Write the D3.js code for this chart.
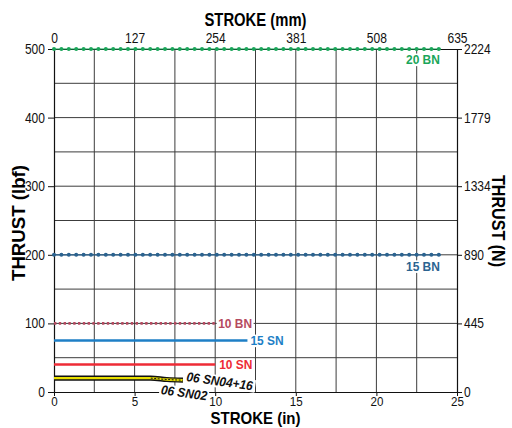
<!DOCTYPE html>
<html>
<head>
<meta charset="utf-8">
<script src="https://cdn.jsdelivr.net/npm/d3@7"></script>
<style>
  html, body { margin: 0; padding: 0; background: #fff; }
  svg text { font-family: "Liberation Sans", Arial, sans-serif; }
</style>
</head>
<body>
<svg id="chart" width="512" height="428"></svg>
<script>
// Stroke axis (inches) and thrust axis (lbf)
const strokeTicksIn = [0, 5, 10, 15, 20, 25];
const strokeTicksMm = ["0", "127", "254", "381", "508", "635"];
const thrustTicksLbf = [0, 100, 200, 300, 400, 500];
const thrustTicksN = ["0", "445", "890", "1334", "1779", "2224"];

// Constant-thrust models: [stroke start, stroke end, thrust]
const seriesNames = ["20 BN", "15 BN", "10 BN", "15 SN", "10 SN"];
const seriesStroke = [[0, 24], [0, 24], [0, 10], [0, 12], [0, 10]];
const seriesThrust = [500, 200, 100, 75, 40];

// Small models with a drop-off near the end of stroke
const sn0416Stroke = [0, 6, 7, 8];
const sn0416Thrust = [23, 23, 21, 20];
const sn02Stroke = [0, 6, 7, 8];
const sn02Thrust = [17.5, 17.5, 15.5, 14.5];

const svg = d3.select("#chart");
const m = { left: 54, right: 457, top: 49, bottom: 392 };

const x = d3.scaleLinear().domain([0, 25]).range([m.left, m.right]);
const y = d3.scaleLinear().domain([0, 500]).range([m.bottom, m.top]);

const gridColor = "#3c3c3c";
const narrow = 0.86;

// Grid
const grid = svg.append("g");
grid.selectAll("line.v").data(d3.range(2.5, 25, 2.5)).join("line")
  .attr("x1", d => x(d)).attr("x2", d => x(d))
  .attr("y1", y(500)).attr("y2", y(0))
  .attr("stroke", gridColor).attr("stroke-width", 1);
grid.selectAll("line.h").data(d3.range(50, 500, 50)).join("line")
  .attr("x1", x(0)).attr("x2", x(25))
  .attr("y1", d => y(d)).attr("y2", d => y(d))
  .attr("stroke", gridColor).attr("stroke-width", 1);

// Axes, tick text drawn slightly condensed
const axisStyle = size => g => {
  g.select(".domain").attr("stroke", "#111").attr("stroke-width", 1.2);
  g.selectAll(".tick line").attr("stroke", "#111");
  g.selectAll(".tick text").attr("font-size", size).attr("fill", "#111")
    .each(function () {
      const t = d3.select(this);
      const tx = +(t.attr("x") || 0);
      t.attr("x", tx / narrow).attr("transform", `scale(${narrow},1)`);
    });
};

svg.append("g").attr("transform", `translate(0,${m.bottom})`)
  .call(d3.axisBottom(x).tickValues(strokeTicksIn).tickSize(4).tickPadding(0).tickSizeOuter(0))
  .call(axisStyle(13.5));

svg.append("g").attr("transform", `translate(0,${m.top})`)
  .call(d3.axisTop(x).tickValues(strokeTicksIn).tickFormat((d, i) => strokeTicksMm[i]).tickSize(0).tickPadding(6).tickSizeOuter(0))
  .call(axisStyle(14));

svg.append("g").attr("transform", `translate(${m.left},0)`)
  .call(d3.axisLeft(y).tickValues(thrustTicksLbf).tickSize(6).tickPadding(3).tickSizeOuter(0))
  .call(axisStyle(14));

svg.append("g").attr("transform", `translate(${m.right},0)`)
  .call(d3.axisRight(y).tickValues(thrustTicksLbf).tickFormat((d, i) => thrustTicksN[i]).tickSize(5).tickPadding(2).tickSizeOuter(0))
  .call(axisStyle(14));

// Axis titles (condensed bold)
function title(txt, len, transform, size) {
  svg.append("text").attr("transform", transform)
    .attr("text-anchor", "middle").attr("font-weight", "bold").attr("font-size", size)
    .attr("textLength", len).attr("lengthAdjust", "spacingAndGlyphs")
    .text(txt);
}
const cx = (m.left + m.right) / 2;
title("STROKE (mm)", 102, `translate(${cx},26)`, 19);
title("STROKE (in)", 90, `translate(${cx},424)`, 17);
title("THRUST (lbf)", 116, `translate(25,223) rotate(-90)`, 19);
title("THRUST (N)", 92, `translate(492,221) rotate(90)`, 19);

// Series styling
const colors = ["#1aa65a", "#2b6390", "#b54a60", "#1e7fc6", "#ee2b36"];
const styles = ["dots", "dots", "dash", "solid", "solid"];

const lines = svg.append("g");
seriesNames.forEach((name, i) => {
  const [s0, s1] = seriesStroke[i];
  const v = seriesThrust[i];
  const c = colors[i];
  const base = () => lines.append("line")
    .attr("x1", x(s0)).attr("x2", x(s1)).attr("y1", y(v)).attr("y2", y(v))
    .attr("stroke", c);
  if (styles[i] === "dots") {
    base().attr("stroke-width", 1.2);
    base().attr("stroke-width", 4).attr("stroke-linecap", "round").attr("stroke-dasharray", "0,7.4");
  } else if (styles[i] === "dash") {
    base().attr("stroke-width", 2.6).attr("stroke-dasharray", "2.4,2.4");
  } else {
    base().attr("stroke-width", 2.6);
  }
});

// Small-model band
const pts0416 = sn0416Stroke.map((s, i) => [s, sn0416Thrust[i]]);
const pts02 = sn02Stroke.map((s, i) => [s, sn02Thrust[i]]);
const curve = d3.curveMonotoneX;
const area = d3.area().x(d => x(d[0])).y0((d, i) => y(pts02[i][1])).y1(d => y(d[1])).curve(curve);
const line = d3.line().x(d => x(d[0])).y(d => y(d[1])).curve(curve);
lines.append("path").datum(pts0416).attr("d", area).attr("fill", "#e9e000");
lines.append("path").datum(pts0416).attr("d", line).attr("fill", "none").attr("stroke", "#111").attr("stroke-width", 1.4);
lines.append("path").datum(pts02).attr("d", line).attr("fill", "none").attr("stroke", "#111").attr("stroke-width", 1.4);
// dashed centre on the drop-off section
const mid = sn0416Stroke.map((s, i) => [s, (sn0416Thrust[i] + sn02Thrust[i]) / 2]).filter(d => d[0] >= 6);
lines.append("path").datum(mid).attr("d", line).attr("fill", "none").attr("stroke", "#111")
  .attr("stroke-width", 1).attr("stroke-dasharray", "2,1.5");

// Labels with white backing
const labelLayer = svg.append("g");
function label(txt, px, py, color, opts = {}) {
  const g = labelLayer.append("g").attr("transform", `translate(${px},${py}) rotate(${opts.rotate || 0})`);
  const bg = g.append("rect").attr("fill", "#fff");
  const t = g.append("text").attr("font-size", 13).attr("font-weight", "bold")
    .attr("font-style", opts.italic ? "italic" : "normal")
    .attr("fill", color).attr("text-anchor", opts.anchor || "start")
    .attr("transform", "scale(0.92,1)").text(txt);
  const b = t.node().getBBox();
  bg.attr("x", b.x * 0.92 - 1.5).attr("y", b.y + 1).attr("width", b.width * 0.92 + 3).attr("height", b.height - 2);
}

label("20 BN", x(24) - 1, y(500) + 15, colors[0], { anchor: "end" });
label("15 BN", x(24) - 1, y(200) + 16, colors[1], { anchor: "end" });
label("10 BN", x(10) + 3, y(100) + 4.5, colors[2]);
label("15 SN", x(12) + 3, y(75) + 4.5, colors[3]);
label("10 SN", x(10) + 4, y(40) + 4.5, colors[4]);
label("06 SN04+16", x(8) + 3, y(16), "#111", { italic: true, rotate: 8 });
label("06 SN02", x(6.6), y(-3), "#111", { italic: true, rotate: 8 });
</script>
</body>
</html>
